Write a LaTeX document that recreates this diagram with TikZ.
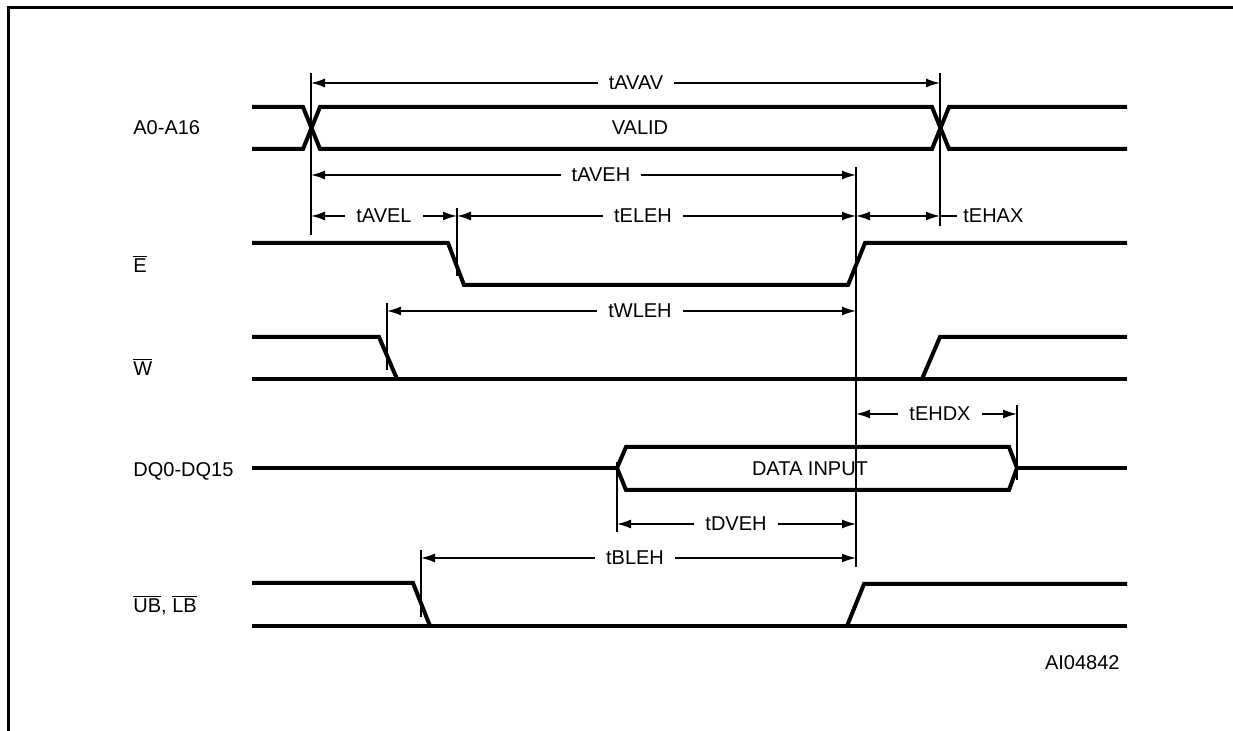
\documentclass[tikz,border=0pt]{standalone}
\usepackage{fontspec}
\setmainfont{Liberation Sans}
\usetikzlibrary{arrows.meta}
\begin{document}
\begin{tikzpicture}[x=0.5pt,y=-0.5pt,
  sig/.style={line width=2pt,line join=miter},
  refl/.style={line width=0.75pt},
  dim/.style={line width=0.75pt,{Latex[length=7pt,width=4.5pt]}-{Latex[length=7pt,width=4.5pt]}},
  lab/.style={fill=white,inner xsep=5.5pt,inner ysep=1pt,font=\fontsize{10}{12}\selectfont},
  txt/.style={inner sep=0pt,font=\fontsize{10}{12}\selectfont},
  sigl/.style={anchor=base west,inner sep=0pt,font=\fontsize{10}{12}\selectfont}]
\useasboundingbox (0,0) rectangle (1233,731);
% frame
\draw[line width=1.5pt] (8.5,731) -- (8.5,8) -- (1233,8);

% signal labels
\node[sigl] (lA) at (133,135) {A0-A16};
\node[sigl] (lE) at (133,273) {$\overline{\mbox{E}}$};
\node[sigl] (lW) at (133,376) {$\overline{\mbox{W}}$};
\node[sigl] (lDQ) at (133,477) {DQ0-DQ15};
\node[sigl] (lUB) at (133,613) {$\overline{\mbox{UB}}$, $\overline{\mbox{LB}}$};

% A0-A16 bus
\draw[sig] (252,107) -- (303,107) -- (320,149) -- (932,149) -- (949,107) -- (1127,107);
\draw[sig] (252,149) -- (303,149) -- (320,107) -- (932,107) -- (949,149) -- (1127,149);
\node[txt] (valid) at (640,128) {VALID};

% E
\draw[sig] (252,243) -- (448,243) -- (464,285) -- (848,285) -- (865,243) -- (1127,243);

% W
\draw[sig] (252,337) -- (379,337) -- (397,379);
\draw[sig] (252,379) -- (1127,379);
\draw[sig] (922,379) -- (940,337) -- (1127,337);

% DQ
\draw[sig] (252,468) -- (617,468);
\draw[sig] (617,468) -- (626,447) -- (1009,447) -- (1017,468) -- (1009,490) -- (626,490) -- cycle;
\draw[sig] (1017,468) -- (1127,468);
\node[txt] (data) at (810,469) {DATA INPUT};

% UB, LB
\draw[sig] (252,583) -- (413,583) -- (430,626);
\draw[sig] (252,626) -- (1127,626);
\draw[sig] (847,626) -- (864,584) -- (1127,584);

% reference lines
\coordinate (v1t) at (311,73);  \coordinate (v1b) at (311,235);
\coordinate (v2t) at (940,73);  \coordinate (v2b) at (940,226);
\coordinate (v3t) at (856,167); \coordinate (v3b) at (856,567);
\coordinate (v4t) at (457,208); \coordinate (v4b) at (457,276);
\coordinate (v5t) at (387,303); \coordinate (v5b) at (387,370);
\coordinate (v6t) at (617,462); \coordinate (v6b) at (617,532);
\coordinate (v7t) at (1017,405);\coordinate (v7b) at (1017,480);
\coordinate (v8t) at (421,550); \coordinate (v8b) at (421,617);
\foreach \v in {1,...,8} \draw[refl] (v\v t) -- (v\v b);

% dimension arrows
\coordinate (avav1) at (311,83);  \coordinate (avav2) at (940,83);
\draw[dim] (avav1) -- (avav2);
\node[lab] (tAVAV) at (636,83) {tAVAV};

\coordinate (aveh1) at (311,175); \coordinate (aveh2) at (856,175);
\draw[dim] (aveh1) -- (aveh2);
\node[lab] (tAVEH) at (601,175) {tAVEH};

\coordinate (avel1) at (311,216); \coordinate (avel2) at (457,216);
\draw[dim] (avel1) -- (avel2);
\node[lab] (tAVEL) at (384,216) {tAVEL};

\coordinate (eleh2) at (856,216);
\draw[dim] (avel2) -- (eleh2);
\node[lab] (tELEH) at (643,216) {tELEH};

\coordinate (ehax2) at (940,216); \coordinate (ehax3) at (957,216);
\draw[dim] (eleh2) -- (ehax2);
\draw[refl] (ehax2) -- (ehax3);
\node[txt,anchor=west] (tEHAX) at (963,216) {tEHAX};

\coordinate (wleh1) at (387,311); \coordinate (wleh2) at (856,311);
\draw[dim] (wleh1) -- (wleh2);
\node[lab] (tWLEH) at (640,311) {tWLEH};

\coordinate (ehdx1) at (856,414); \coordinate (ehdx2) at (1017,414);
\draw[dim] (ehdx1) -- (ehdx2);
\node[lab] (tEHDX) at (940,414) {tEHDX};

\coordinate (dveh1) at (617,524); \coordinate (dveh2) at (856,524);
\draw[dim] (dveh1) -- (dveh2);
\node[lab] (tDVEH) at (736,524) {tDVEH};

\coordinate (bleh1) at (421,558); \coordinate (bleh2) at (856,558);
\draw[dim] (bleh1) -- (bleh2);
\node[lab] (tBLEH) at (635,558) {tBLEH};

\node[txt,anchor=east] (ai) at (1120,663) {AI04842};
\end{tikzpicture}
\end{document}
